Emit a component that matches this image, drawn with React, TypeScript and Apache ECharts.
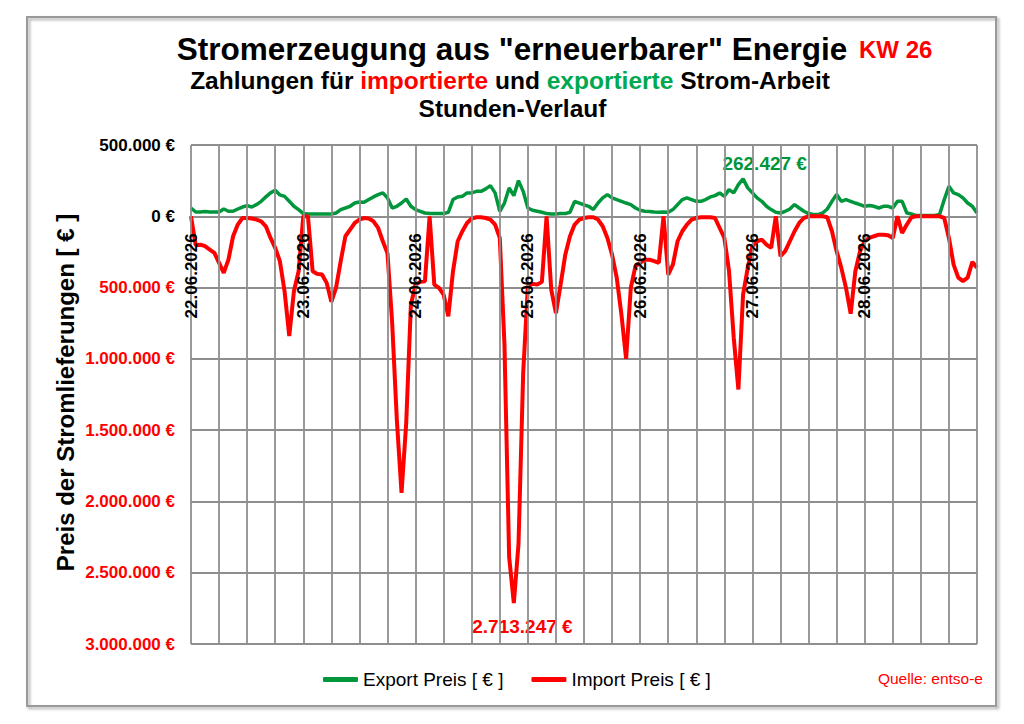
import React, { useEffect, useRef } from "react";
import * as echarts from "echarts";

// ---------- data (hourly, KW 26) ----------
const dayLabels = [
  "22.06.2026",
  "23.06.2026",
  "24.06.2026",
  "25.06.2026",
  "26.06.2026",
  "27.06.2026",
  "28.06.2026",
];

// Export payments (€), one value per hour, 22.06. 00:00 .. 29.06. 00:00
const exportValues = [
  58000, 30000, 30000, 33000, 30000, 30000, 30000, 51000, 35000, 35000, 51000, 65000,
  75000, 65000, 82000, 105000, 136000, 164000, 182000, 150000, 140000, 105000, 70000, 47000,
  19000, 16000, 16000, 16000, 16000, 16000, 16000, 23000, 47000, 58000, 70000, 93000,
  100000, 98000, 117000, 136000, 152000, 164000, 129000, 58000, 70000, 93000, 121000, 70000,
  47000, 35000, 23000, 19000, 19000, 19000, 19000, 28000, 117000, 136000, 140000, 164000,
  164000, 175000, 175000, 192000, 215000, 164000, 35000, 93000, 199000, 145000, 250000, 175000,
  58000, 42000, 35000, 28000, 19000, 16000, 16000, 19000, 19000, 28000, 105000, 93000,
  80000, 70000, 47000, 93000, 129000, 152000, 129000, 117000, 105000, 93000, 82000, 58000,
  42000, 35000, 33000, 30000, 28000, 30000, 28000, 47000, 82000, 117000, 129000, 117000,
  105000, 105000, 117000, 136000, 145000, 164000, 140000, 187000, 164000, 222000, 262427, 199000,
  164000, 129000, 105000, 70000, 47000, 28000, 23000, 35000, 51000, 82000, 58000, 35000,
  19000, 12000, 12000, 23000, 51000, 105000, 152000, 105000, 117000, 105000, 93000, 82000,
  70000, 75000, 70000, 58000, 70000, 70000, 58000, 105000, 105000, 23000, 16000, 5000,
  5000, 5000, 5000, 5000, 12000, 117000, 210000, 164000, 152000, 129000, 93000, 70000,
  23000,
];

// Import payments (€), plotted below zero
const importValues = [
  0, -203000, -199000, -210000, -234000, -257000, -327000, -397000, -304000, -140000, -58000, -12000,
  -12000, -16000, -23000, -35000, -70000, -152000, -222000, -315000, -526000, -840000, -526000, -386000,
  0, 0, -386000, -404000, -409000, -467000, -600000, -502000, -315000, -140000, -93000, -47000,
  -23000, -12000, -16000, -35000, -82000, -175000, -260000, -750000, -1430000, -1940000, -1450000, -620000,
  -479000, -460000, -456000, 0, -479000, -502000, -549000, -701000, -386000, -175000, -105000, -47000,
  -16000, -7000, -7000, -12000, -23000, -58000, -152000, -900000, -2390000, -2713247, -2300000, -1100000,
  -491000, -474000, -479000, -460000, 0, -514000, -680000, -479000, -269000, -140000, -58000, -23000,
  -12000, -7000, -7000, -23000, -70000, -152000, -269000, -432000, -689000, -1000000, -502000, -350000,
  -327000, -304000, -304000, -315000, -327000, 0, -409000, -339000, -175000, -105000, -58000, -23000,
  -12000, -7000, -7000, -7000, -12000, -82000, -152000, -386000, -850000, -1215000, -550000, -362000,
  -210000, -175000, -164000, -199000, -222000, 0, -280000, -245000, -175000, -105000, -47000, -12000,
  0, 0, 0, 0, -7000, -105000, -245000, -362000, -502000, -683000, -386000, -245000,
  -175000, -152000, -140000, -129000, -129000, -133000, -152000, 0, -117000, -58000, -7000, 0,
  0, 0, 0, 0, 0, -12000, -152000, -339000, -430000, -455000, -430000, -320000,
  -360000,
];

const seriesNames = ["Export Preis [ € ]", "Import Preis [ € ]"];
const yMin = -3000000;
const yMax = 500000;
const yStep = 500000;
const hoursTotal = 168;
const hourStep = 6;

// ---------- layout / styles ----------
const W = 1024;
const H = 724;
const GRID_LEFT = 191;
const GRID_RIGHT = 47;
const GRID_TOP = 145;
const GRID_BOTTOM = 80;
const FONT = "'Liberation Sans', Arial, Helvetica, sans-serif";
const RED = "#ff0000";
const GREEN = "#00963c";
const GRID = "#8e8e8e";

const fmt = (n: number) =>
  Math.round(Math.abs(n))
    .toString()
    .replace(/\B(?=(\d{3})+(?!\d))/g, ".");

export default function App() {
  const ref = useRef<HTMLDivElement>(null);

  useEffect(() => {
    if (!ref.current) return;
    const chart = echarts.init(ref.current, undefined, { renderer: "svg" });

    const exportData = exportValues.map((v, i) => [i, v]);
    const importData = importValues.map((v, i) => [i, v]);
    const maxExport = Math.max(...exportValues);
    const peakIdx = exportValues.indexOf(maxExport);
    const minImport = Math.min(...importValues);
    const minIdx = importValues.indexOf(minImport);

    // x axis (date labels) sits on the zero line, like the original
    const plotHeight = H - GRID_TOP - GRID_BOTTOM;
    const zeroOffset = -(plotHeight * (0 - yMin)) / (yMax - yMin);

    const option: any = {
      animation: false,
      backgroundColor: "#ffffff",
      textStyle: { fontFamily: FONT },
      grid: {
        left: GRID_LEFT,
        right: GRID_RIGHT,
        top: GRID_TOP,
        bottom: GRID_BOTTOM,
        containLabel: false,
      },
      xAxis: {
        type: "value",
        min: 0,
        max: hoursTotal,
        interval: hourStep,
        offset: zeroOffset,
        z: 10,
        axisLine: { show: false, onZero: false },
        axisTick: { show: false },
        splitLine: { show: true, lineStyle: { color: GRID, width: 1.8 } },
        axisLabel: {
          rotate: 90,
          margin: 17,
          fontSize: 17,
          fontWeight: "bold",
          color: "#000",
          fontFamily: FONT,
          showMinLabel: true,
          showMaxLabel: true,
          formatter: (v: number) =>
            v % 24 === 0 && v / 24 < dayLabels.length ? dayLabels[v / 24] : "",
        },
      },
      yAxis: {
        type: "value",
        min: yMin,
        max: yMax,
        interval: yStep,
        axisLine: { show: false, onZero: false },
        axisTick: { show: false },
        splitLine: { show: true, lineStyle: { color: GRID, width: 1.8 } },
        axisLabel: {
          margin: 16,
          fontSize: 17,
          fontWeight: "bold",
          fontFamily: FONT,
          color: (v: any) => (Number(v) < 0 ? RED : "#000"),
          formatter: (v: number) => fmt(v) + " €",
        },
      },
      legend: {
        data: seriesNames,
        left: 318,
        top: 665,
        icon: "roundRect",
        itemWidth: 35,
        itemHeight: 5,
        itemGap: 28,
        selectedMode: false,
        textStyle: { fontSize: 19, color: "#000", fontFamily: FONT },
      },
      series: [
        {
          name: seriesNames[0],
          type: "line",
          data: exportData,
          showSymbol: false,
          symbol: "none",
          color: GREEN,
          lineStyle: { color: GREEN, width: 3.5 },
          itemStyle: { color: GREEN },
          z: 2,
          markPoint: {
            symbol: "circle",
            symbolSize: 1,
            itemStyle: { color: "rgba(0,0,0,0)" },
            data: [{ coord: [peakIdx, maxExport], value: maxExport }],
            label: {
              show: true,
              position: "inside",
              offset: [21.6, -15],
              formatter: (p: any) => fmt(p.value) + " €",
              color: GREEN,
              fontSize: 19,
              fontWeight: "bold",
              fontFamily: FONT,
            },
          },
        },
        {
          name: seriesNames[1],
          type: "line",
          data: importData,
          showSymbol: false,
          symbol: "none",
          color: RED,
          lineStyle: { color: RED, width: 4 },
          itemStyle: { color: RED },
          z: 3,
          markPoint: {
            symbol: "circle",
            symbolSize: 1,
            itemStyle: { color: "rgba(0,0,0,0)" },
            data: [{ coord: [minIdx, minImport], value: minImport }],
            label: {
              show: true,
              position: "inside",
              offset: [8.6, 23.4],
              formatter: (p: any) => fmt(p.value) + " €",
              color: RED,
              fontSize: 19,
              fontWeight: "bold",
              fontFamily: FONT,
            },
          },
        },
      ],
      graphic: [
        {
          type: "rect",
          z: -10,
          shape: { x: 27, y: 17, width: 969, height: 689 },
          style: {
            fill: "none",
            stroke: "#9a9a9a",
            lineWidth: 2,
            shadowBlur: 3,
            shadowOffsetX: 2,
            shadowOffsetY: 2,
            shadowColor: "rgba(0,0,0,0.35)",
          },
        },
        {
          type: "text",
          x: 512,
          y: 49,
          style: {
            text: 'Stromerzeugung aus "erneuerbarer" Energie',
            font: `bold 31.5px ${FONT}`,
            fill: "#000",
            textAlign: "center",
            textVerticalAlign: "middle",
          },
        },
        {
          type: "text",
          x: 859,
          y: 49,
          style: {
            text: "KW 26",
            font: `bold 24px ${FONT}`,
            fill: RED,
            textAlign: "left",
            textVerticalAlign: "middle",
          },
        },
        {
          type: "text",
          x: 510,
          y: 80.7,
          style: {
            text: "{k|Zahlungen für }{r|importierte}{k| und }{g|exportierte}{k| Strom-Arbeit}",
            font: `bold 24.5px ${FONT}`,
            textAlign: "center",
            textVerticalAlign: "middle",
            rich: {
              k: { fill: "#000", fontSize: 24.5, fontWeight: "bold", fontFamily: FONT },
              r: { fill: RED, fontSize: 24.5, fontWeight: "bold", fontFamily: FONT },
              g: { fill: "#00a84f", fontSize: 24.5, fontWeight: "bold", fontFamily: FONT },
            },
          },
        },
        {
          type: "text",
          x: 512.5,
          y: 108.7,
          style: {
            text: "Stunden-Verlauf",
            font: `bold 24.5px ${FONT}`,
            fill: "#000",
            textAlign: "center",
            textVerticalAlign: "middle",
          },
        },
        {
          type: "text",
          x: 65,
          y: 392.5,
          rotation: Math.PI / 2,
          style: {
            text: "Preis der Stromlieferungen [ € ]",
            font: `bold 24px ${FONT}`,
            fill: "#000",
            textAlign: "center",
            textVerticalAlign: "middle",
          },
        },
        {
          type: "text",
          x: 983,
          y: 678,
          style: {
            text: "Quelle: entso-e",
            font: `15.5px ${FONT}`,
            fill: RED,
            textAlign: "right",
            textVerticalAlign: "middle",
          },
        },
      ],
    };

    chart.setOption(option);
    return () => chart.dispose();
  }, []);

  return (
    <div
      ref={ref}
      style={{ position: "absolute", left: 0, top: 0, width: W, height: H }}
    />
  );
}
